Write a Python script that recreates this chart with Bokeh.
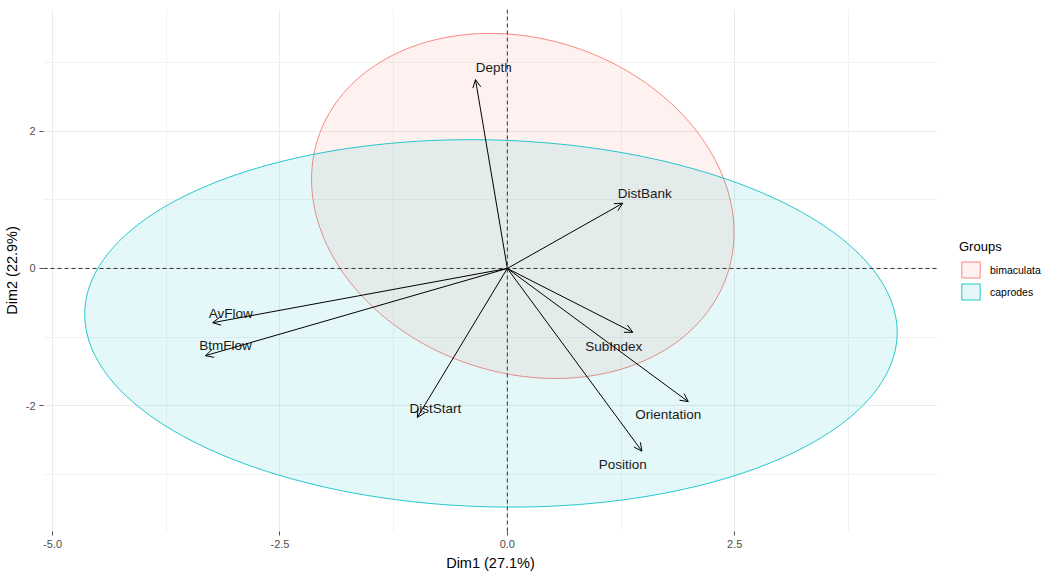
import numpy as np
from bokeh.plotting import figure
from bokeh.models import (ColumnDataSource, Range1d, FixedTicker, Span, Arrow, OpenHead,
                          Legend, LegendItem)
from bokeh.core.properties import value
from bokeh.embed import file_html
from bokeh.resources import INLINE

# ---- data ----
variables = ["Depth", "DistBank", "SubIndex", "Orientation", "Position", "AvFlow", "BtmFlow", "DistStart"]
dim1 = [-0.35, 1.27, 1.38, 1.99, 1.48, -3.24, -3.32, -0.99]
dim2 = [2.75, 0.95, -0.93, -1.94, -2.66, -0.79, -1.27, -2.17]
label_x = [-0.15, 1.51, 1.17, 1.77, 1.27, -3.04, -3.10, -0.79]
label_y = [2.93, 1.09, -1.14, -2.13, -2.85, -0.66, -1.12, -2.04]

groups = ["bimaculata", "caprodes"]
group_colors = ["#F8766D", "#00BFC4"]
ell_cx = [0.17, -0.18]
ell_cy = [0.91, -0.80]
ell_a = [2.62, 4.47]
ell_b = [2.20, 2.67]
ell_angle = [-1.02, -0.046]

x_ticks = [-5.0, -2.5, 0.0, 2.5]
x_tick_labels = ["-5.0", "-2.5", "0.0", "2.5"]
x_minor = [-3.75, -1.25, 1.25, 3.75]
y_ticks = [-2, 0, 2]
y_tick_labels = ["-2", "0", "2"]
y_minor = [-3, -1, 1, 3]

FONT = "Liberation Sans"

p = figure(frame_width=894, frame_height=522, output_backend="svg", toolbar_location=None,
           x_range=Range1d(-5.10, 4.73), y_range=Range1d(-3.83, 3.77),
           min_border_left=35, min_border_top=9, min_border_right=107, min_border_bottom=10)
p.outline_line_color = None
p.background_fill_color = "white"

# axes
for ax, ticks, labels, minor in [(p.xaxis[0], x_ticks, x_tick_labels, x_minor),
                                 (p.yaxis[0], y_ticks, y_tick_labels, y_minor)]:
    ax.ticker = FixedTicker(ticks=ticks, minor_ticks=minor)
    ax.major_label_overrides = {t: l for t, l in zip(ticks, labels)}
    ax.axis_line_color = None
    ax.major_tick_line_color = "#4D4D4D"
    ax.major_tick_out = 4
    ax.major_tick_in = 0
    ax.minor_tick_line_color = None
    ax.major_label_text_font = FONT
    ax.major_label_text_font_size = "11px"
    ax.major_label_text_color = "#4D4D4D"
    ax.axis_label_text_font = FONT
    ax.axis_label_text_font_size = "14.5px"
    ax.axis_label_text_font_style = "normal"
    ax.axis_label_text_color = "#000000"
p.xaxis.axis_label = "Dim1 (27.1%)"
p.yaxis.axis_label = "Dim2 (22.9%)"
p.xaxis.major_label_standoff = 4
p.yaxis.major_label_standoff = 4
p.xaxis.axis_label_standoff = 4
p.yaxis.axis_label_standoff = 3

for g in (p.xgrid[0], p.ygrid[0]):
    g.grid_line_color = "#EBEBEB"
    g.grid_line_width = 1
    g.minor_grid_line_color = "#F2F2F2"
    g.minor_grid_line_width = 1
p.xgrid[0].ticker = p.xaxis[0].ticker
p.ygrid[0].ticker = p.yaxis[0].ticker

# ellipses
t = np.linspace(0, 2 * np.pi, 181)
renderers = []
for g, c, cx, cy, a, b, ang in zip(groups, group_colors, ell_cx, ell_cy, ell_a, ell_b, ell_angle):
    ex = cx + a * np.cos(ang) * np.cos(t) - b * np.sin(ang) * np.sin(t)
    ey = cy + a * np.sin(ang) * np.cos(t) + b * np.cos(ang) * np.sin(t)
    r = p.patch(ex, ey, fill_color=c, fill_alpha=0.1, line_color=c, line_width=1, line_alpha=0.85)
    renderers.append(r)

# reference lines
p.add_layout(Span(location=0, dimension="width", line_color="#333333", line_width=1, line_dash="4 3"))
p.add_layout(Span(location=0, dimension="height", line_color="#333333", line_width=1, line_dash="4 3"))

# arrows
src = ColumnDataSource(dict(x0=[0.0] * len(dim1), y0=[0.0] * len(dim1), x=dim1, y=dim2,
                            lx=label_x, ly=label_y, name=variables))
p.add_layout(Arrow(end=OpenHead(size=8, line_width=1, line_color="black"),
                   x_start="x0", y_start="y0", x_end="x", y_end="y", source=src,
                   line_color="black", line_width=1))
p.text(x="lx", y="ly", text="name", source=src, text_font=value(FONT), text_font_size="13.5px",
       text_align="center", text_baseline="middle", text_color="#1A1A1A")

# legend
legend = Legend(items=[LegendItem(label=g, renderers=[r]) for g, r in zip(groups, renderers)],
                title="Groups", location="left", orientation="vertical")
legend.title_text_font = FONT
legend.title_text_font_size = "13px"
legend.title_text_font_style = "normal"
legend.title_text_color = "#000000"
legend.label_text_font = FONT
legend.label_text_font_size = "10.5px"
legend.label_text_color = "#000000"
legend.glyph_width = 23
legend.glyph_height = 20
legend.spacing = 2
legend.label_standoff = 8
legend.padding = 0
legend.margin = 22
legend.border_line_color = None
legend.background_fill_alpha = 0
legend.title_standoff = 6
p.add_layout(legend, "right")

open("out.html", "w").write(file_html(p, INLINE))
